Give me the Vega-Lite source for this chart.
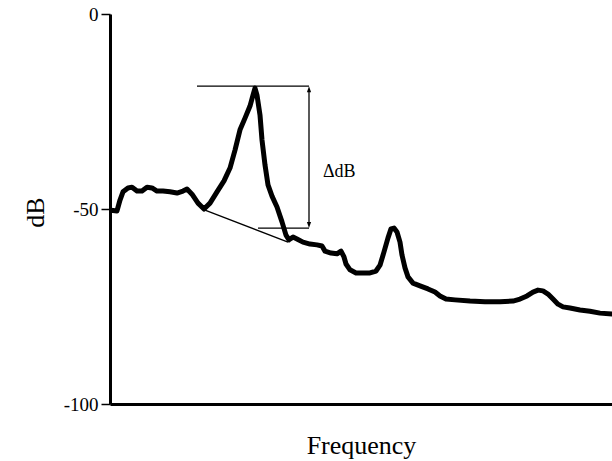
{
  "$schema": "https://vega.github.io/schema/vega-lite/v6.json",
  "width": 502,
  "height": 390,
  "autosize": {"type": "none"},
  "padding": {"left": 110, "top": 14, "right": 0, "bottom": 57},
  "background": "white",
  "config": {"view": {"stroke": null}, "font": "Liberation Serif", "text": {"font": "Liberation Serif"}, "axis": {"labelFont": "Liberation Serif", "titleFont": "Liberation Serif"}},
  "datasets": {
    "trace": [
      {"f": 1, "db": -50.3}, {"f": 7, "db": -50.5}, {"f": 10, "db": -47.7}, {"f": 13, "db": -45.6},
      {"f": 18, "db": -44.6}, {"f": 22, "db": -44.4}, {"f": 27, "db": -45.4}, {"f": 32, "db": -45.4},
      {"f": 37, "db": -44.4}, {"f": 42, "db": -44.6}, {"f": 47, "db": -45.4}, {"f": 53, "db": -45.4},
      {"f": 60, "db": -45.6}, {"f": 67, "db": -45.9}, {"f": 73, "db": -45.4}, {"f": 77, "db": -44.9},
      {"f": 82, "db": -46.2}, {"f": 88, "db": -48.5}, {"f": 94, "db": -50.0}, {"f": 100, "db": -48.5},
      {"f": 107, "db": -45.6}, {"f": 114, "db": -42.8}, {"f": 120, "db": -39.5}, {"f": 125, "db": -34.9},
      {"f": 130, "db": -29.7}, {"f": 135, "db": -26.7}, {"f": 140, "db": -23.6}, {"f": 143, "db": -20.8},
      {"f": 145, "db": -19.0}, {"f": 147, "db": -20.8}, {"f": 150, "db": -25.9}, {"f": 152, "db": -32.3},
      {"f": 155, "db": -38.7}, {"f": 158, "db": -43.8}, {"f": 162, "db": -46.7}, {"f": 167, "db": -49.5},
      {"f": 172, "db": -53.3}, {"f": 176, "db": -56.7}, {"f": 179, "db": -57.9}, {"f": 183, "db": -57.2},
      {"f": 187, "db": -57.7}, {"f": 193, "db": -58.5}, {"f": 200, "db": -59.0}, {"f": 207, "db": -59.2},
      {"f": 212, "db": -59.5}, {"f": 215, "db": -60.8}, {"f": 221, "db": -61.3}, {"f": 227, "db": -61.5},
      {"f": 231, "db": -60.8}, {"f": 234, "db": -62.3}, {"f": 236, "db": -64.1}, {"f": 240, "db": -65.6},
      {"f": 246, "db": -66.4}, {"f": 252, "db": -66.4}, {"f": 260, "db": -66.4}, {"f": 266, "db": -65.9},
      {"f": 270, "db": -64.4}, {"f": 274, "db": -61.0}, {"f": 278, "db": -57.4}, {"f": 281, "db": -55.1},
      {"f": 284, "db": -54.9}, {"f": 287, "db": -55.9}, {"f": 290, "db": -58.5}, {"f": 292, "db": -61.8},
      {"f": 295, "db": -65.1}, {"f": 298, "db": -67.4}, {"f": 303, "db": -69.0}, {"f": 310, "db": -69.7},
      {"f": 318, "db": -70.5}, {"f": 325, "db": -71.3}, {"f": 330, "db": -72.3}, {"f": 336, "db": -73.1},
      {"f": 345, "db": -73.3}, {"f": 360, "db": -73.6}, {"f": 375, "db": -73.8}, {"f": 390, "db": -73.8},
      {"f": 403, "db": -73.6}, {"f": 410, "db": -73.1}, {"f": 417, "db": -72.3}, {"f": 423, "db": -71.3},
      {"f": 428, "db": -70.8}, {"f": 433, "db": -71.0}, {"f": 438, "db": -71.8}, {"f": 443, "db": -73.1},
      {"f": 448, "db": -74.4}, {"f": 453, "db": -75.1}, {"f": 460, "db": -75.4}, {"f": 470, "db": -75.9},
      {"f": 480, "db": -76.2}, {"f": 490, "db": -76.7}, {"f": 502, "db": -76.9}
    ],
    "segments": [
      {"f1": 87, "d1": -18.5, "f2": 199, "d2": -18.5},
      {"f1": 199, "d1": -19.5, "f2": 199, "d2": -54},
      {"f1": 148, "d1": -54.9, "f2": 199, "d2": -54.9},
      {"f1": 95, "d1": -50.3, "f2": 178, "d2": -58.5}
    ],
    "heads": [
      {"f": 199, "db": -18.5, "dir": "up"},
      {"f": 199, "db": -54.9, "dir": "down"}
    ],
    "labels": [
      {"f": 213, "db": -40.5, "label": "ΔdB"}
    ]
  },
  "layer": [
    {
      "data": {"name": "trace"},
      "mark": {"type": "line", "color": "black", "strokeWidth": 5, "strokeJoin": "round", "strokeCap": "round", "clip": true},
      "encoding": {
        "x": {
          "field": "f", "type": "quantitative",
          "scale": {"domain": [0, 502], "nice": false, "zero": false},
          "axis": {
            "title": "Frequency", "labels": false, "ticks": false, "grid": false,
            "domainWidth": 3, "domainColor": "black",
            "titleFontSize": 26, "titleFontWeight": "normal", "titleColor": "black",
            "titleFont": "Liberation Serif", "titleY": 49, "titleBaseline": "alphabetic"
          }
        },
        "y": {
          "field": "db", "type": "quantitative",
          "scale": {"domain": [-100, 0], "nice": false, "zero": false},
          "axis": {
            "values": [0, -50, -100], "labelExpr": "'' + datum.value",
            "title": "dB", "grid": false,
            "tickSize": 9, "tickWidth": 1.5, "tickColor": "black",
            "labelFontSize": 19, "labelColor": "black", "labelFont": "Liberation Serif", "labelPadding": 3,
            "domainWidth": 3, "domainColor": "black",
            "titleFontSize": 26, "titleFontWeight": "normal", "titleColor": "black", "titleFont": "Liberation Serif",
            "titleAngle": -90, "titleX": -67, "titleY": 198, "titleBaseline": "alphabetic", "titleAlign": "center"
          }
        }
      }
    },
    {
      "mark": {"type": "rule", "color": "black", "strokeWidth": 3},
      "encoding": {"y": {"datum": 0, "type": "quantitative"}}
    },
    {
      "data": {"name": "segments"},
      "mark": {"type": "rule", "color": "black", "strokeWidth": 1.3},
      "encoding": {
        "x": {"field": "f1", "type": "quantitative"},
        "x2": {"field": "f2"},
        "y": {"field": "d1", "type": "quantitative"},
        "y2": {"field": "d2"}
      }
    },
    {
      "data": {"name": "heads"},
      "transform": [{"filter": "datum.dir == 'up'"}],
      "mark": {"type": "point", "shape": "M0,0L-0.35,1L0.35,1Z", "size": 144, "filled": true, "color": "black", "opacity": 1},
      "encoding": {
        "x": {"field": "f", "type": "quantitative"},
        "y": {"field": "db", "type": "quantitative"}
      }
    },
    {
      "data": {"name": "heads"},
      "transform": [{"filter": "datum.dir == 'down'"}],
      "mark": {"type": "point", "shape": "M0,0L-0.35,-1L0.35,-1Z", "size": 144, "filled": true, "color": "black", "opacity": 1},
      "encoding": {
        "x": {"field": "f", "type": "quantitative"},
        "y": {"field": "db", "type": "quantitative"}
      }
    },
    {
      "data": {"name": "labels"},
      "mark": {"type": "text", "align": "left", "baseline": "middle", "fontSize": 18, "font": "Liberation Serif", "color": "black"},
      "encoding": {
        "x": {"field": "f", "type": "quantitative"},
        "y": {"field": "db", "type": "quantitative"},
        "text": {"field": "label"}
      }
    }
  ]
}
